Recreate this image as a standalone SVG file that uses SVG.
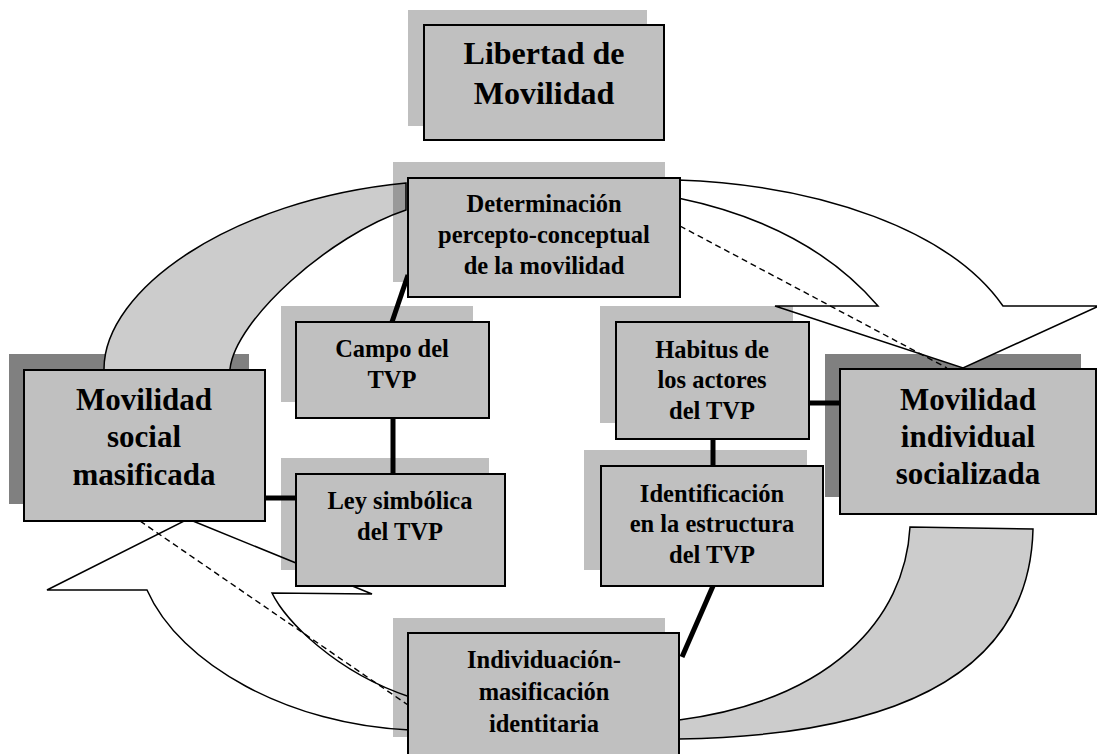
<svg xmlns="http://www.w3.org/2000/svg" width="1097" height="754" viewBox="0 0 1097 754">
<style>
.box{fill:#c0c0c0;stroke:#000;stroke-width:2}
.sh{fill:#000;fill-opacity:0.25}
.dsh{fill:#808080}
.arw{stroke:#000;stroke-width:1.5;stroke-linejoin:miter}
.gray{fill:#cccccc}
.white{fill:#ffffff}
.lnk{stroke:#000;stroke-width:5;fill:none}
.dash{stroke:#000;stroke-width:1.4;stroke-dasharray:6 4;fill:none}
text{font-family:"Liberation Serif","Times New Roman",serif;font-weight:bold;text-anchor:middle;fill:#000}
.big{font-size:31px}
.top{font-size:32px}
.mid{font-size:24.5px}
</style>
<rect width="1097" height="754" fill="#fff"/>
<g id="dark-shadows">
<rect class="dsh" x="9" y="354" width="240" height="150"/>
<rect class="dsh" x="825" y="354" width="256" height="143"/>
</g>
<g id="connectors">
<path class="arw gray" d="M104,372 L104,369 C104,290 230,200 406,183 L406,210 C330,235 235,320 230,369 L230,372 Z"/>
<path class="arw white" d="M678,180 C820,185 950,230 1003,306 L1099,306 L963,368 L775,306 L878,306 C830,250 760,215 678,198 Z"/>
<path class="arw white" d="M188,519 L372,594 L272,593 C285,620 335,672 410,697 L410,730 C290,725 180,665 147,590 L47,590 Z"/>
<path class="arw gray" d="M910,527 L1033,529 C1030,660 920,735 679,739 L679,720 C830,700 905,620 910,527 Z"/>
<line class="dash" x1="680" y1="226" x2="947" y2="368"/>
<line class="dash" x1="140" y1="521" x2="408" y2="705"/>
<line class="lnk" x1="408" y1="275" x2="392" y2="322"/>
<line class="lnk" x1="393" y1="418" x2="393" y2="474"/>
<line class="lnk" x1="265" y1="498" x2="296" y2="498"/>
<line class="lnk" x1="809" y1="403" x2="840" y2="403"/>
<line class="lnk" x1="713" y1="439" x2="713" y2="466"/>
<line class="lnk" x1="713" y1="586" x2="682" y2="657"/>
</g>
<g id="libertad">
<rect class="sh" x="408" y="10" width="239" height="116"/>
<rect class="box" x="424" y="25" width="240" height="115"/>
<text class="top" x="544" y="64">Libertad de</text>
<text class="top" x="544" y="104">Movilidad</text>
</g>
<g id="determinacion">
<rect class="sh" x="393" y="162" width="272" height="120"/>
<rect class="box" x="408" y="178" width="272" height="119"/>
<text class="mid" x="544" y="212">Determinación</text>
<text class="mid" x="544" y="243">percepto-conceptual</text>
<text class="mid" x="544" y="274">de la movilidad</text>
</g>
<g id="campo">
<rect class="sh" x="281" y="306" width="192" height="96"/>
<rect class="box" x="296" y="322" width="193" height="96"/>
<text class="mid" x="392" y="357">Campo del</text>
<text class="mid" x="392" y="388">TVP</text>
</g>
<g id="ley">
<rect class="sh" x="281" y="458" width="208" height="112"/>
<rect class="box" x="296" y="474" width="209" height="112"/>
<text class="mid" x="400" y="509">Ley simbólica</text>
<text class="mid" x="400" y="540">del TVP</text>
</g>
<g id="habitus">
<rect class="sh" x="600" y="306" width="193" height="117"/>
<rect class="box" x="616" y="322" width="193" height="117"/>
<text class="mid" x="712" y="358">Habitus de</text>
<text class="mid" x="712" y="388">los actores</text>
<text class="mid" x="712" y="419">del TVP</text>
</g>
<g id="identificacion">
<rect class="sh" x="584" y="450" width="223" height="120"/>
<rect class="box" x="601" y="466" width="222" height="120"/>
<text class="mid" x="712" y="502">Identificación</text>
<text class="mid" x="712" y="532">en la estructura</text>
<text class="mid" x="712" y="563">del TVP</text>
</g>
<g id="individuacion">
<rect class="sh" x="393" y="618" width="272" height="119"/>
<rect class="box" x="408" y="633" width="271" height="130"/>
<text class="mid" x="544" y="668">Individuación-</text>
<text class="mid" x="544" y="700">masificación</text>
<text class="mid" x="544" y="732">identitaria</text>
</g>
<g id="movilidad-social">
<rect class="box" x="24" y="370" width="241" height="151"/>
<text class="big" x="144" y="410">Movilidad</text>
<text class="big" x="144" y="447">social</text>
<text class="big" x="144" y="485">masificada</text>
</g>
<g id="movilidad-individual">
<rect class="box" x="840" y="369" width="256" height="145"/>
<text class="big" x="968" y="410">Movilidad</text>
<text class="big" x="968" y="447">individual</text>
<text class="big" x="968" y="484">socializada</text>
</g>
</svg>
